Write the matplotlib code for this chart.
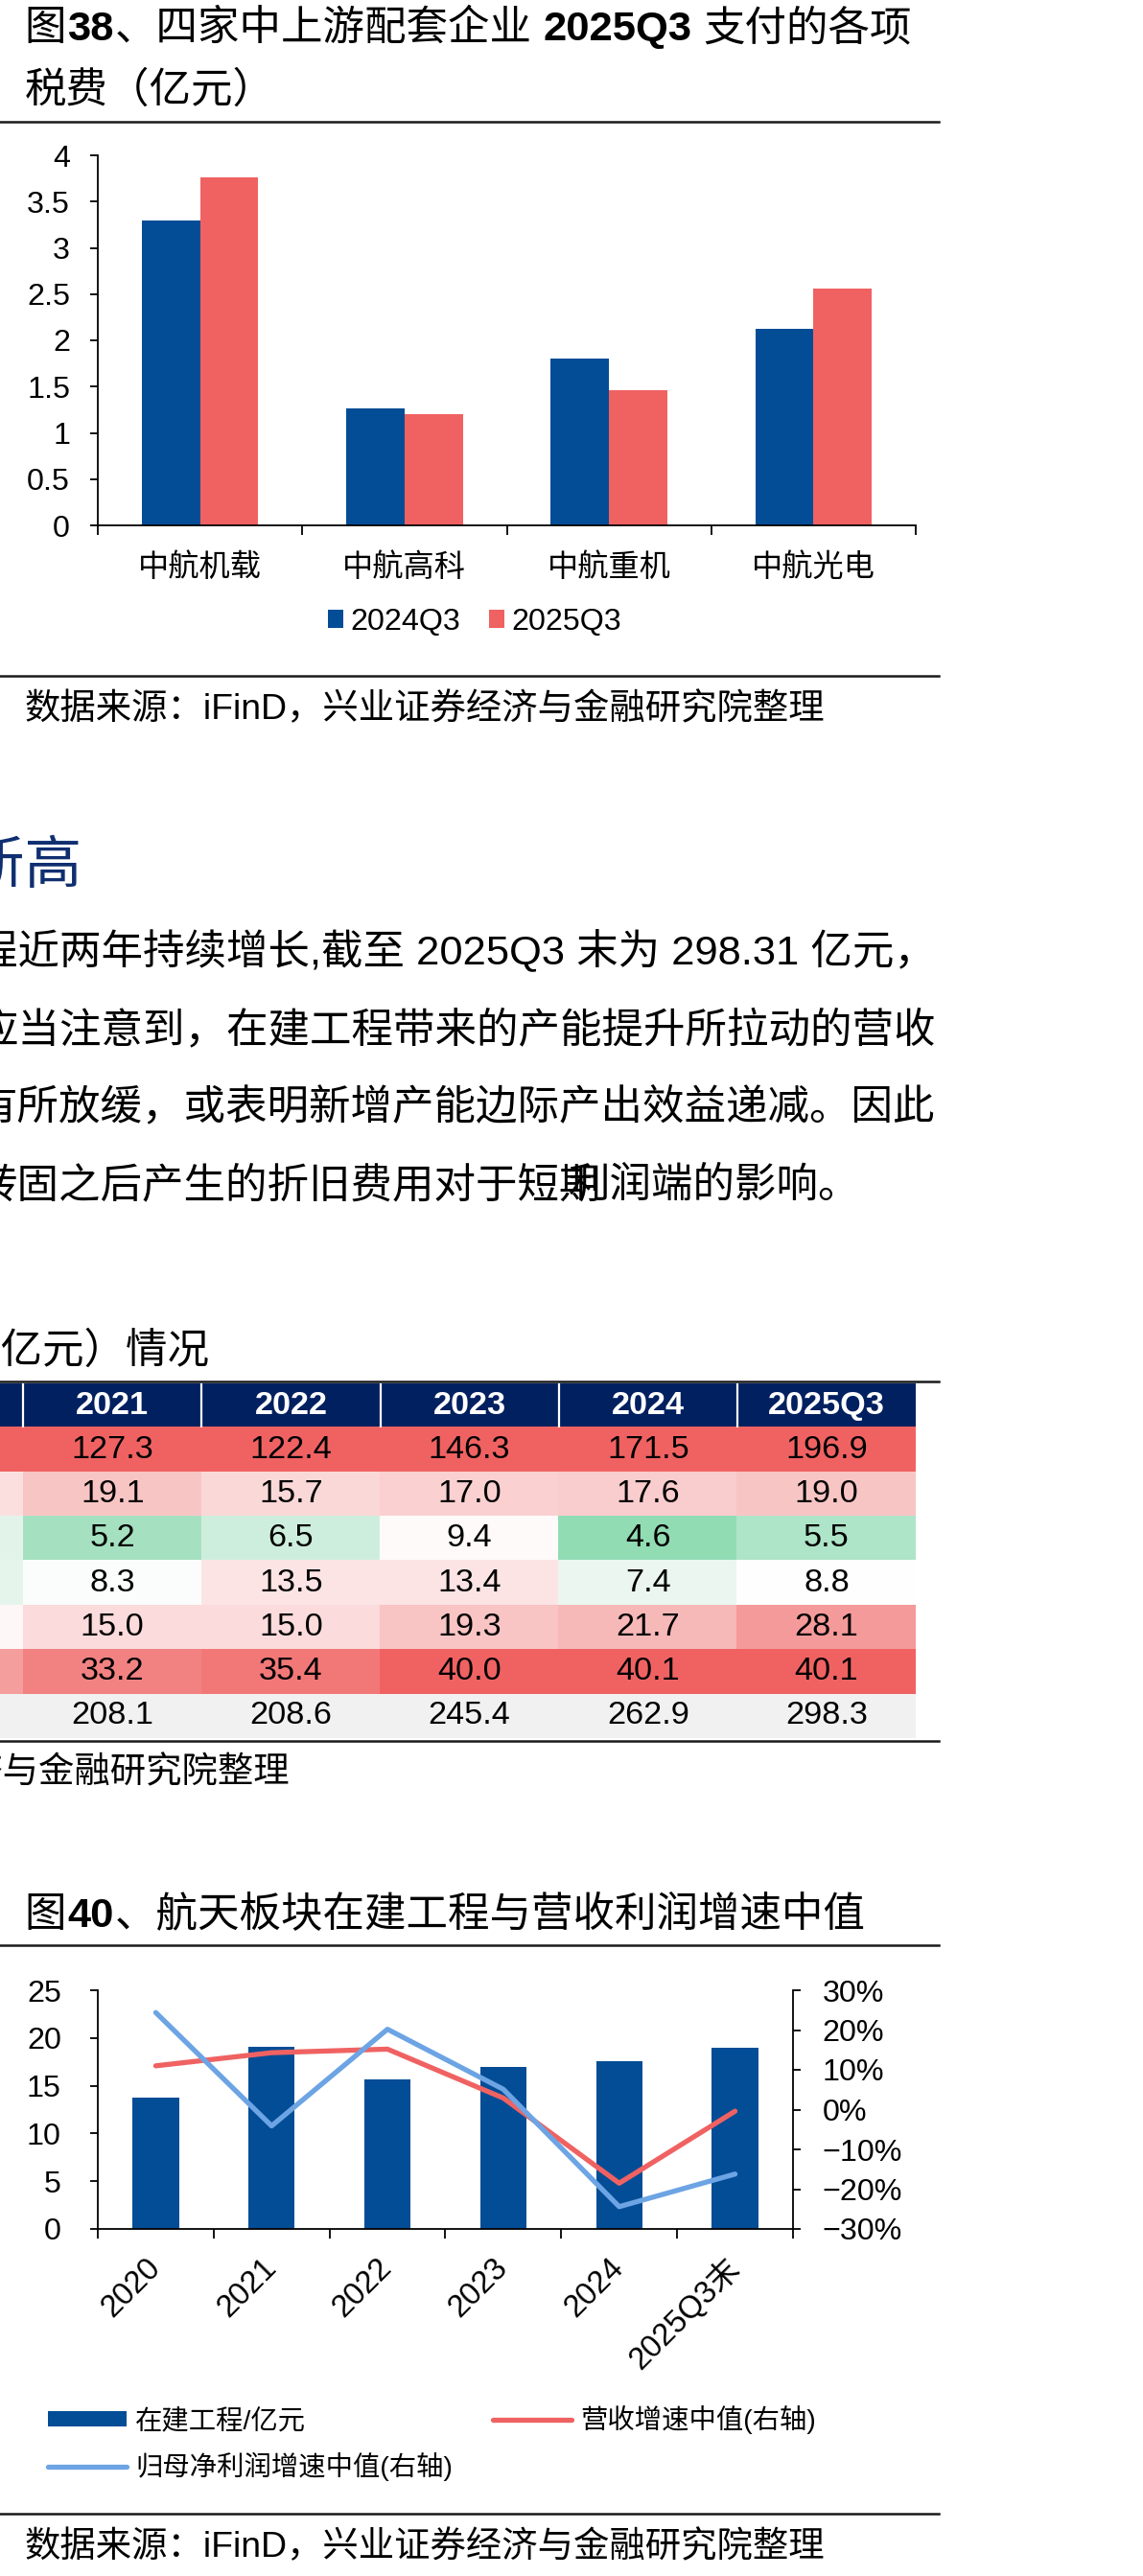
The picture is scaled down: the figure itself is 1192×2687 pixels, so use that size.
import numpy as np
import matplotlib
matplotlib.use('Agg')
import matplotlib.pyplot as plt
from matplotlib.lines import Line2D
from matplotlib.ticker import FuncFormatter
from matplotlib.colors import LinearSegmentedColormap, TwoSlopeNorm, to_rgb

plt.rcParams['font.family'] = ['Liberation Sans', 'Noto Sans CJK SC', 'DejaVu Sans']
plt.rcParams['axes.unicode_minus'] = True

# ---- data: figure 38 ----
companies = ['中航机载', '中航高科', '中航重机', '中航光电']
tax_2024q3 = [3.30, 1.26, 1.80, 2.12]
tax_2025q3 = [3.76, 1.20, 1.46, 2.56]

# ---- data: table (2020 column is mostly cut off on the page) ----
years = ['2020', '2021', '2022', '2023', '2024', '2025Q3']
row_1 = [115.0, 127.3, 122.4, 146.3, 171.5, 196.9]
row_2 = [14.3, 19.1, 15.7, 17.0, 17.6, 19.0]
row_3 = [7.1, 5.2, 6.5, 9.4, 4.6, 5.5]
row_4 = [7.2, 8.3, 13.5, 13.4, 7.4, 8.8]
row_5 = [9.9, 15.0, 15.0, 19.3, 21.7, 28.1]
row_6 = [27.2, 33.2, 35.4, 40.0, 40.1, 40.1]
row_total = [180.7, 208.1, 208.6, 245.4, 262.9, 298.3]

# ---- data: figure 40 ----
periods = ['2020', '2021', '2022', '2023', '2024', '2025Q3末']
cip = [13.8, 19.1, 15.7, 17.0, 17.6, 19.0]
rev_growth = [11.0, 14.3, 15.2, 2.9, -18.5, -0.4]
np_growth = [24.4, -4.1, 20.2, 5.1, -24.4, -16.2]

BLUE = '#034d96'
RED = '#f06262'
LBLUE = '#6ca4e4'
NAVY = '#002060'

W, H = 1192, 2687
fig = plt.figure(figsize=(W / 100, H / 100), dpi=100)


def px_axes(left, top, right, bottom):
    return fig.add_axes([left / W, 1 - bottom / H, (right - left) / W, (bottom - top) / H])


def px_text(x, y, s, **kw):
    kw.setdefault('va', 'baseline')
    return fig.text(x / W, 1 - y / H, s, **kw)


def hline(y):
    fig.add_artist(Line2D([0, 979 / W], [1 - y / H] * 2, color='#1a1a1a', lw=1.8))


def rich_text(x, y, parts, size):
    r = fig.canvas.get_renderer()
    for s, weight, gap in parts:
        t = px_text(x, y, s, fontsize=size, fontweight=weight)
        x += t.get_window_extent(r).width + gap


TITLE = 31.3
SRC = 26.9
SOURCE = '数据来源：iFinD，兴业证券经济与金融研究院整理'

# ================= figure 38 =================
rich_text(25.5, 42, [('图', 'medium', 1), ('38', 'bold', 1),
                     ('、四家中上游配套企业', 'medium', 12), ('2025Q3', 'bold', 12),
                     ('支付的各项', 'medium', 0)], TITLE)
px_text(25.5, 107, '税费（亿元）', fontsize=TITLE, fontweight='medium')
hline(127)

ax1 = px_axes(102, 162, 955, 548)
x = np.arange(len(companies))
bw = 0.285
ax1.bar(x - bw / 2, tax_2024q3, bw, color=BLUE, label='2024Q3')
ax1.bar(x + bw / 2, tax_2025q3, bw, color=RED, label='2025Q3')
ax1.set_xlim(-0.5, len(companies) - 0.5)
ax1.set_ylim(0, 4)
ax1.set_yticks(np.arange(0, 4.01, 0.5))
ax1.yaxis.set_major_formatter(FuncFormatter(lambda v, p: f'{v:g}'))
ax1.set_xticks(x)
ax1.set_xticklabels(companies)
ax1.set_xticks(np.arange(-0.5, len(companies)), minor=True)
ax1.tick_params(axis='x', which='major', length=0, pad=21, labelsize=23.2)
ax1.tick_params(axis='x', which='minor', length=7, width=1.3)
ax1.tick_params(axis='y', length=6, width=1.3, pad=14.8, labelsize=23.2)
for s in ['top', 'right']:
    ax1.spines[s].set_visible(False)
for s in ['left', 'bottom']:
    ax1.spines[s].set_linewidth(1.3)
h, l = ax1.get_legend_handles_labels()
fig.legend(h, l, loc='center', bbox_to_anchor=(495 / W, 1 - 649 / H), ncol=2,
           frameon=False, fontsize=23.2, handlelength=0.5, handleheight=0.5,
           handletextpad=0.25, columnspacing=0.9)
hline(705)
px_text(25.5, 750, SOURCE, fontsize=SRC)

# ================= text block =================
px_text(86, 921, '创新高', fontsize=43, color='#102f70', ha='right')
BODY = 31.3
px_text(-24.8, 1006, '程近两年持续增长,截至 2025Q3 末为 298.31 亿元，', fontsize=BODY)
px_text(-24.8, 1087, '应当注意到，在建工程带来的产能提升所拉动的营收', fontsize=BODY)
px_text(-25.5, 1168, '有所放缓，或表明新增产能边际产出效益递减。因此', fontsize=BODY)
px_text(-25.3, 1249, '转固之后产生的折旧费用对于短期', fontsize=BODY)
px_text(593, 1249, '利润端的影响。', fontsize=BODY)

# ================= table =================
px_text(219, 1422, '（亿元）情况', fontsize=TITLE, fontweight='medium', ha='right')
hline(1441)

data_rows = [row_1, row_2, row_3, row_4, row_5, row_6]
nodes = [(0.0, (146, 220, 180)), (0.35, (236, 247, 241)), (0.5, (255, 255, 255)),
         (0.665, (249, 198, 198)), (1.0, (240, 98, 98))]
cmap = LinearSegmentedColormap.from_list('heat', [(p, tuple(c / 255 for c in rgb)) for p, rgb in nodes])
norm = TwoSlopeNorm(vmin=4.6, vcenter=8.6, vmax=40.1)

ncol = len(years)
nrow = len(data_rows) + 2
img = np.ones((nrow, ncol, 3))
img[0, :] = to_rgb(NAVY)
vals = np.array(data_rows)
img[1:1 + len(data_rows)] = cmap(np.clip(norm(vals), 0, 1))[..., :3]
img[-1, :] = to_rgb('#f1f1f1')

axt = px_axes(-162, 1443, 955, 1813)
axt.imshow(img, extent=(0, ncol, nrow, 0), aspect='auto', interpolation='nearest')
axt.vlines(np.arange(1, ncol), 0, 1, colors='white', lw=1.6)
axt.set_xlim(0, ncol)
axt.set_ylim(nrow, 0)
axt.axis('off')
for j, yr in enumerate(years):
    axt.text(j + 0.5, 0.5, yr, ha='center', va='center', color='white',
             fontsize=24.7, fontweight='bold')
    for i, row in enumerate(data_rows + [row_total]):
        axt.text(j + 0.5, i + 1.5, f'{row[j]:.1f}', ha='center', va='center',
                 color='black', fontsize=24.7)
hline(1816)
px_text(302, 1859, SOURCE, fontsize=SRC, ha='right')

# ================= figure 40 =================
rich_text(25.5, 2010, [('图', 'medium', 1), ('40', 'bold', 1),
                       ('、航天板块在建工程与营收利润增速中值', 'medium', 0)], TITLE)
hline(2029)

ax3 = px_axes(102, 2076, 827, 2325)
xp = np.arange(len(periods))
bars = ax3.bar(xp, cip, 0.4, color=BLUE, label='在建工程/亿元')
ax3.set_xlim(-0.5, len(periods) - 0.5)
ax3.set_ylim(0, 25)
ax3.set_yticks(np.arange(0, 26, 5))
ax3.set_xticks(xp)
ax3.set_xticklabels(periods)
ax3.set_xticks(np.arange(-0.5, len(periods)), minor=True)
ax3.tick_params(axis='x', which='major', length=0, pad=26, labelsize=23.5)
ax3.tick_params(axis='x', which='minor', length=7, width=1.3)
ax3.tick_params(axis='y', length=6, width=1.3, pad=21.5, labelsize=23.2)
plt.setp(ax3.get_xticklabels(), rotation=45, ha='right', va='center', rotation_mode='anchor')
for s in ['top', 'right']:
    ax3.spines[s].set_visible(False)
for s in ['left', 'bottom']:
    ax3.spines[s].set_linewidth(1.3)

ax4 = ax3.twinx()
l_rev, = ax4.plot(xp, rev_growth, color=RED, lw=3.8, solid_capstyle='round',
                  label='营收增速中值(右轴)')
l_np, = ax4.plot(xp, np_growth, color=LBLUE, lw=3.8, solid_capstyle='round',
                 label='归母净利润增速中值(右轴)')
ax4.set_ylim(-30, 30)
ax4.set_yticks(np.arange(-30, 31, 10))
ax4.yaxis.set_major_formatter(FuncFormatter(lambda v, p: f'{v:.0f}%'.replace('-', '\u2212')))
ax4.tick_params(axis='y', length=6, width=1.3, pad=16, labelsize=23.2)
for s in ['top', 'left', 'bottom']:
    ax4.spines[s].set_visible(False)
ax4.spines['right'].set_linewidth(1.3)

fig.legend([bars, l_np, l_rev], [bars.get_label(), l_np.get_label(), l_rev.get_label()],
           loc='upper left', bbox_to_anchor=(49.7 / W, 1 - 2509 / H), ncol=2,
           frameon=False, fontsize=20.4, handlelength=2.9, handleheight=0.5,
           handletextpad=0.33, columnspacing=1.48, labelspacing=0.65,
           borderpad=0, borderaxespad=0)
hline(2622)
px_text(25.5, 2667, SOURCE, fontsize=SRC)

fig.savefig('out.png', dpi=100)
